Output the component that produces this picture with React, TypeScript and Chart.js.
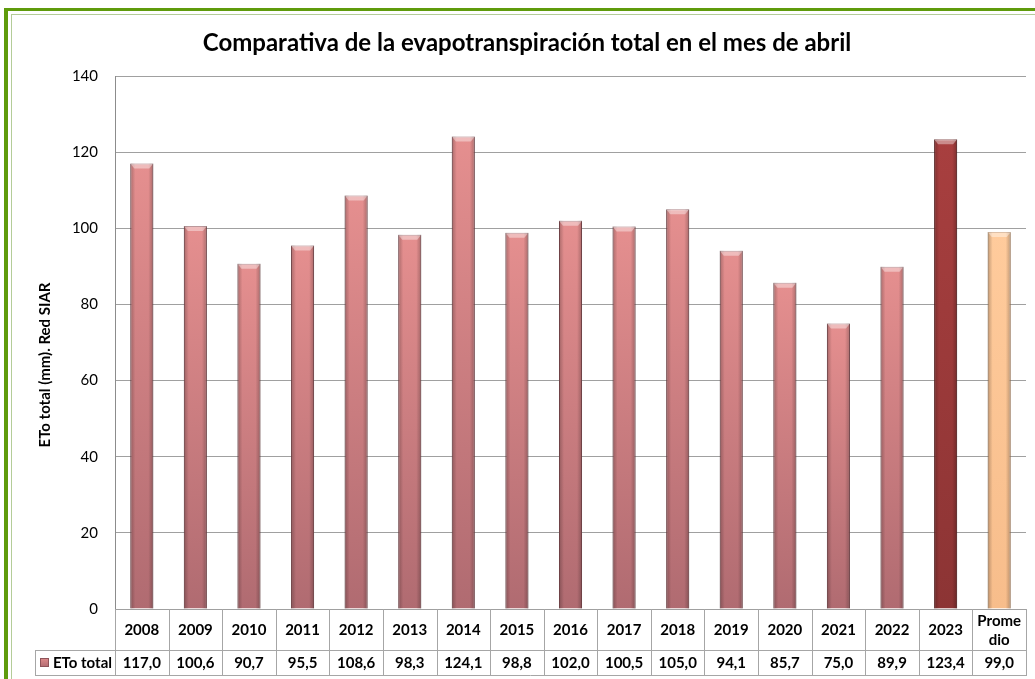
import { useEffect, useRef } from "react";
import { Chart, registerables } from "chart.js";
Chart.register(...registerables);

const categories = ["2008", "2009", "2010", "2011", "2012", "2013", "2014", "2015", "2016", "2017", "2018", "2019", "2020", "2021", "2022", "2023", "Promedio"];
const headerLabels = [["2008"], ["2009"], ["2010"], ["2011"], ["2012"], ["2013"], ["2014"], ["2015"], ["2016"], ["2017"], ["2018"], ["2019"], ["2020"], ["2021"], ["2022"], ["2023"], ["Prome", "dio"]];
const etoValues = [117.0, 100.6, 90.7, 95.5, 108.6, 98.3, 124.1, 98.8, 102.0, 100.5, 105.0, 94.1, 85.7, 75.0, 89.9, 123.4, 99.0];
const yTickValues = [0, 20, 40, 60, 80, 100, 120, 140];
const seriesName = "ETo total";
const titleText = "Comparativa de la evapotranspiración total en el mes de abril";
const yAxisTitle = "ETo total (mm). Red SIAR";

const FONT = "Lato, 'Open Sans', sans-serif";

function barColors(i: number): [string, string, string] {
  if (i === 15) return ["#a83f3f", "#8c3434", "#6e2a2a"];
  if (i === 16) return ["#ffcb9c", "#f7bd8b", "#c9976c"];
  return ["#e58f8f", "#b06b71", "#8e5459"];
}

function fmt(v: number) {
  return v.toFixed(1).replace(".", ",");
}

const overlayPlugin = {
  id: "overlay",
  afterDatasetsDraw(chart: any) {
    const ctx = chart.ctx as CanvasRenderingContext2D;
    const meta = chart.getDatasetMeta(0);
    meta.data.forEach((el: any) => {
      const { x, y, base, width } = el.getProps(["x", "y", "base", "width"], true);
      const l = x - width / 2;
      const r = x + width / 2;
      ctx.save();
      let g = ctx.createLinearGradient(l, 0, l + 5, 0);
      g.addColorStop(0, "rgba(0,0,0,0.25)");
      g.addColorStop(1, "rgba(0,0,0,0)");
      ctx.fillStyle = g;
      ctx.fillRect(l, y, 5, base - y);
      g = ctx.createLinearGradient(r - 5, 0, r, 0);
      g.addColorStop(0, "rgba(0,0,0,0)");
      g.addColorStop(1, "rgba(0,0,0,0.25)");
      ctx.fillStyle = g;
      ctx.fillRect(r - 5, y, 5, base - y);
      ctx.beginPath();
      ctx.moveTo(l, y);
      ctx.lineTo(r, y);
      ctx.lineTo(r - 4, y + 5);
      ctx.lineTo(l + 4, y + 5);
      ctx.closePath();
      ctx.fillStyle = "rgba(255,255,255,0.4)";
      ctx.fill();
      ctx.restore();
    });
  },
};

const tablePlugin = {
  id: "table",
  afterDraw(chart: any) {
    const ctx = chart.ctx as CanvasRenderingContext2D;
    const area = chart.chartArea;
    const xs = chart.scales.x;
    const n = categories.length;
    const colW = (area.right - area.left) / n;
    const top = Math.round(area.bottom);
    const mid = top + 41;
    const bot = top + 66;
    const legendLeft = 35;
    const line = (x1: number, y1: number, x2: number, y2: number) => {
      ctx.beginPath();
      ctx.moveTo(x1, y1);
      ctx.lineTo(x2, y2);
      ctx.stroke();
    };
    ctx.save();
    ctx.strokeStyle = "#a6a6a6";
    ctx.lineWidth = 1;
    line(area.left, mid + 0.5, area.right, mid + 0.5);
    line(legendLeft, mid + 0.5, area.left, mid + 0.5);
    line(legendLeft, bot + 0.5, area.right, bot + 0.5);
    line(legendLeft + 0.5, mid, legendLeft + 0.5, bot + 1);
    for (let i = 0; i <= n; i++) {
      const bx = Math.round(xs.getPixelForValue(Math.min(i, n - 1)) + (i === n ? colW / 2 : -colW / 2)) + 0.5;
      line(bx, top, bx, bot + 1);
    }
    ctx.fillStyle = "#000";
    ctx.textAlign = "center";
    ctx.textBaseline = "middle";
    ctx.font = `bold 15px ${FONT}`;
    for (let i = 0; i < n; i++) {
      const cx = xs.getPixelForValue(i);
      const lines = headerLabels[i];
      if (lines.length === 1) {
        ctx.fillText(lines[0], cx, top + 21);
      } else {
        ctx.fillText(lines[0], cx, top + 12);
        ctx.fillText(lines[1], cx, top + 31);
      }
      ctx.fillText(fmt(etoValues[i]), cx, mid + 13);
    }
    const sg = ctx.createLinearGradient(0, mid + 7, 0, mid + 17);
    sg.addColorStop(0, "#e58f8f");
    sg.addColorStop(1, "#b06b71");
    ctx.fillStyle = sg;
    ctx.fillRect(40, mid + 8, 9, 9);
    ctx.strokeStyle = "#8e5459";
    ctx.strokeRect(40.5, mid + 8.5, 8, 8);
    ctx.fillStyle = "#000";
    ctx.textAlign = "left";
    ctx.fillText(seriesName, 53, mid + 13);
    ctx.textAlign = "center";
    ctx.font = `bold 24px ${FONT}`;
    ctx.fillText(titleText, 527, 43);
    ctx.save();
    ctx.translate(45, 365);
    ctx.rotate(-Math.PI / 2);
    ctx.font = `bold 15px ${FONT}`;
    ctx.fillText(yAxisTitle, 0, 0);
    ctx.restore();
    ctx.restore();
  },
};

export default function App() {
  const ref = useRef<HTMLCanvasElement>(null);
  useEffect(() => {
    if (!ref.current) return;
    const chart = new Chart(ref.current, {
      type: "bar",
      data: {
        labels: categories,
        datasets: [
          {
            label: seriesName,
            data: etoValues,
            backgroundColor: (c: any) => {
              const i = c.dataIndex;
              const [t, b] = barColors(i);
              const ch = c.chart;
              const ys = ch.scales?.y;
              if (!ys || !ch.chartArea) return t;
              const yTop = ys.getPixelForValue(etoValues[i]);
              const yBase = ys.getPixelForValue(0);
              const g = ch.ctx.createLinearGradient(0, yTop, 0, yBase);
              g.addColorStop(0, t);
              g.addColorStop(1, b);
              return g;
            },
            borderColor: (c: any) => barColors(c.dataIndex)[2],
            borderWidth: 1,
            barPercentage: 0.43,
            categoryPercentage: 1,
          },
        ],
      },
      options: {
        responsive: false,
        animation: false,
        devicePixelRatio: 1,
        layout: { padding: { left: 0, top: 76, right: 9, bottom: 70 } },
        plugins: { legend: { display: false }, title: { display: false }, tooltip: { enabled: false } },
        scales: {
          x: { display: false, offset: true },
          y: {
            min: 0,
            max: 140,
            afterFit: (s: any) => {
              s.width = 115;
            },
            afterBuildTicks: (s: any) => {
              s.ticks = yTickValues.map((v) => ({ value: v }));
            },
            grid: { color: "#a0a0a0", lineWidth: 1, tickLength: 0, drawTicks: false },
            border: { display: true, color: "#8c8c8c" },
            ticks: { padding: 17, color: "#000", font: { family: FONT, size: 15 } },
          },
        },
      },
      plugins: [overlayPlugin, tablePlugin],
    });
    return () => chart.destroy();
  }, []);
  return (
    <div style={{ position: "fixed", left: 0, top: 0, width: 1035, height: 679, background: "#fff", overflow: "hidden" }}>
      <div style={{ position: "absolute", left: 4, top: 8, width: 1100, height: 3, background: "#5f9b0c" }} />
      <div style={{ position: "absolute", left: 4, top: 8, width: 4, height: 700, background: "#5f9b0c" }} />
      <div style={{ position: "absolute", left: 11, top: 14, width: 1100, height: 1, background: "#b4cc98" }} />
      <div style={{ position: "absolute", left: 11, top: 14, width: 1, height: 700, background: "#b4cc98" }} />
      <canvas ref={ref} width={1035} height={679} style={{ position: "absolute", left: 0, top: 0 }} />
    </div>
  );
}
